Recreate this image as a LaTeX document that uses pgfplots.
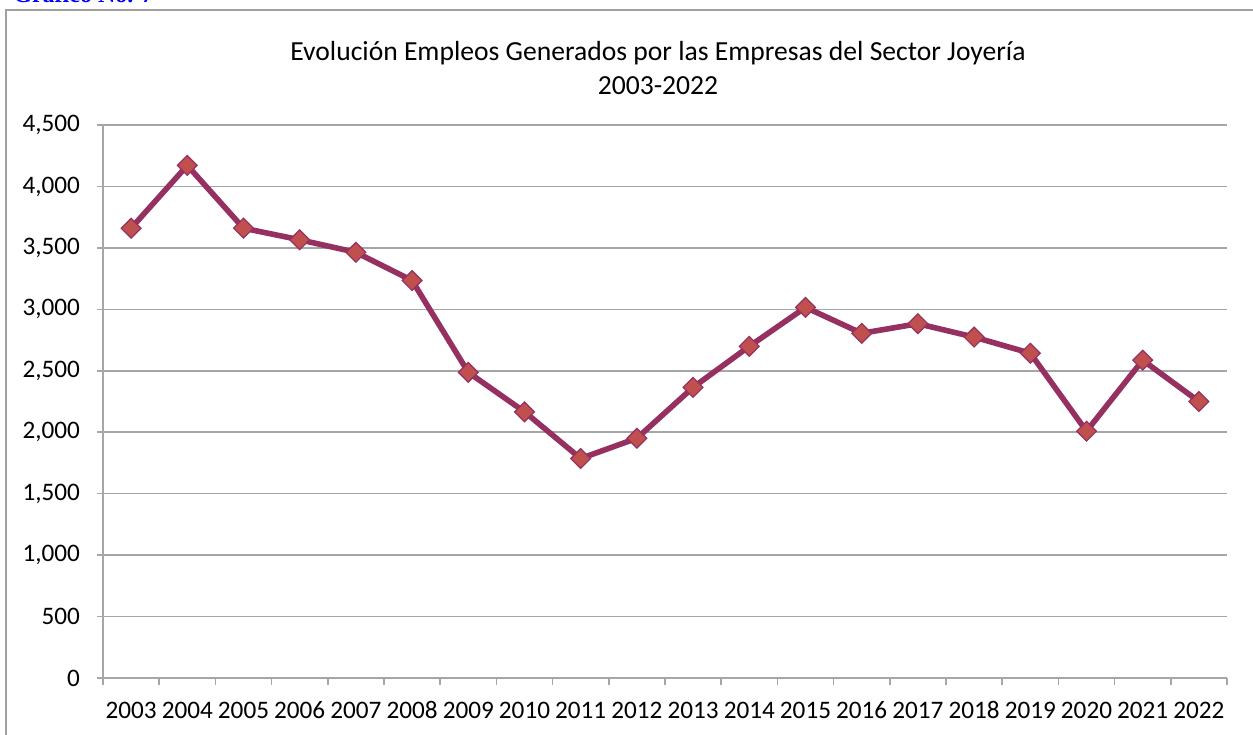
\documentclass[border=0pt]{standalone}
\usepackage{pgfplots}
\pgfplotsset{compat=1.18}
\usepackage{fontspec}
\setmainfont{Carlito}
\newfontfamily\timesfont{Liberation Serif}
\definecolor{gridc}{HTML}{A6A6A6}
\definecolor{linec}{HTML}{953060}
\definecolor{markc}{HTML}{C0504D}
\definecolor{framec}{HTML}{A0A0A0}
\pgfplotstableread{
x val
0 3660
1 4171
2 3660
3 3566
4 3464
5 3234
6 2487
7 2166
8 1786
9 1951
10 2365
11 2699
12 3016
13 2805
14 2883
15 2774
16 2643
17 2008
18 2586
19 2250
}\datatable
\begin{document}
\begin{tikzpicture}
\useasboundingbox (0pt,0pt) rectangle (626.5pt,367pt);
\begin{scope}
\clip (0pt,0pt) rectangle (626.5pt,367pt);
\node[anchor=base west,inner sep=0pt,text=blue,font=\timesfont\bfseries\fontsize{12}{14}\selectfont] at (6.5pt,365.5pt) {Gráfico No. 7};
\end{scope}
\draw[framec,line width=1pt] (3pt,-5pt) -- (3pt,362pt) -- (640pt,362pt);
\node[font=\fontsize{13.8}{16}\selectfont,anchor=center] at (329pt,340.5pt) {Evolución Empleos Generados por las Empresas del Sector Joyería};
\node[font=\fontsize{13.8}{16}\selectfont,anchor=center] at (329pt,324pt) {2003-2022};
\begin{axis}[
  at={(51.5pt,28pt)}, anchor=south west,
  scale only axis, width=562pt, height=276.5pt,
  xmin=-0.5, xmax=19.5, ymin=0, ymax=4500,
  axis lines=left, axis line style={-, draw=gridc, line width=0.8pt},
  xtick={0,...,19},
  xticklabels={2003,2004,2005,2006,2007,2008,2009,2010,2011,2012,2013,2014,2015,2016,2017,2018,2019,2020,2021,2022},
  major x tick style={draw=none},
  minor xtick={-0.5,0.5,...,19.5},
  minor x tick style={draw=gridc, line width=0.8pt},
  minor tick length=3.5pt,
  ytick={0,500,...,4500},
  major y tick style={draw=gridc, line width=0.8pt},
  major tick length=3pt,
  tick align=outside,
  ymajorgrids, major grid style={draw=gridc, line width=0.8pt},
  /pgf/number format/1000 sep={,},
  /pgf/number format/fixed,
  /pgf/number format/assume math mode=true,
  xticklabel style={anchor=base, yshift=-17pt},
  yticklabel style={xshift=-5pt},
  tick label style={font=\fontsize{12.6}{15}\selectfont, text=black},
  clip=false,
]
\addplot[color=linec, line width=2.8pt, mark=square*, mark size=3.5pt,
  mark options={rotate=45, fill=markc, draw=linec, line width=0.6pt, solid}] table[x=x,y=val] {\datatable};
\end{axis}
\end{tikzpicture}
\end{document}
